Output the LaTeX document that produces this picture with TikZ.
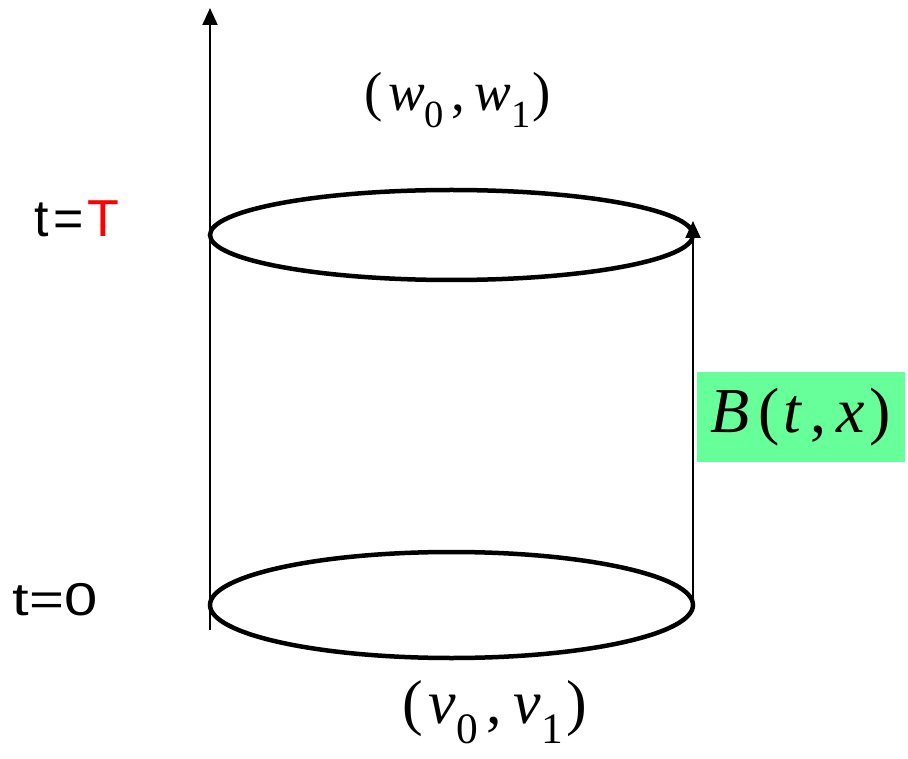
\documentclass[tikz,border=0pt]{standalone}
\usepackage{fontspec}
\setmainfont{Liberation Serif}
\newfontfamily\labelsans{Liberation Sans}
\newfontfamily\widesans[FakeStretch=1.3]{Liberation Sans}
\usetikzlibrary{arrows.meta}
\definecolor{boxgreen}{RGB}{102,255,153}

\begin{document}
\begin{tikzpicture}[
  x=1pt, y=-1pt,
  >={Triangle[length=17pt,width=15pt]},
  rim/.style={line width=4.5pt},
  axis/.style={line width=2pt},
  tlabel/.style={font=\labelsans\fontsize{52}{60}\selectfont, inner sep=0pt},
  pairlabel/.style={inner sep=0pt},
]
\useasboundingbox (0,0) rectangle (908,759);

% Time axis
\coordinate (axbot) at (210,630);
\coordinate (axtop) at (210,8);
\draw[axis,->] (axbot) -- (axtop);

% Rims at t=T and t=0
\draw[rim] (451.5,235) ellipse [x radius=241.5, y radius=45];
\draw[rim] (451.5,605) ellipse [x radius=241.5, y radius=53];

% Side of the cylinder
\coordinate (sidebot) at (693,605);
\coordinate (sidetop) at (693,221);
\draw[axis,->] (sidebot) -- (sidetop);

% Time labels
\node[tlabel] (tT) at (77,219) {t\hspace{4pt}=\hspace{4pt}\textcolor{red}{T}};
\node[tlabel, font=\widesans\fontsize{46}{54}\selectfont] (t0) at (55,600) {t=0};

% Boundary data
\node[pairlabel, font=\fontsize{55}{64}\selectfont] (wpair) at (458,100)
  {(\hspace{5pt}\textit{w}\textsubscript{0}\hspace{7pt},\hspace{9pt}\textit{w}\textsubscript{1}\hspace{2pt})};
\node[pairlabel, font=\fontsize{62}{72}\selectfont] (vpair) at (495,712)
  {(\hspace{5pt}\textit{v}\textsubscript{0}\hspace{8pt},\hspace{12pt}\textit{v}\textsubscript{1}\hspace{3pt})};

% Boundary term
\node[fill=boxgreen, minimum width=208pt, minimum height=90pt, inner sep=0pt,
  font=\fontsize{64}{72}\selectfont] (bterm) at (801,417)
  {\textit{B}\hspace{8pt}(\hspace{4pt}\textit{t}\hspace{8pt},\hspace{10pt}\textit{x}\hspace{5pt})};
\end{tikzpicture}
\end{document}
